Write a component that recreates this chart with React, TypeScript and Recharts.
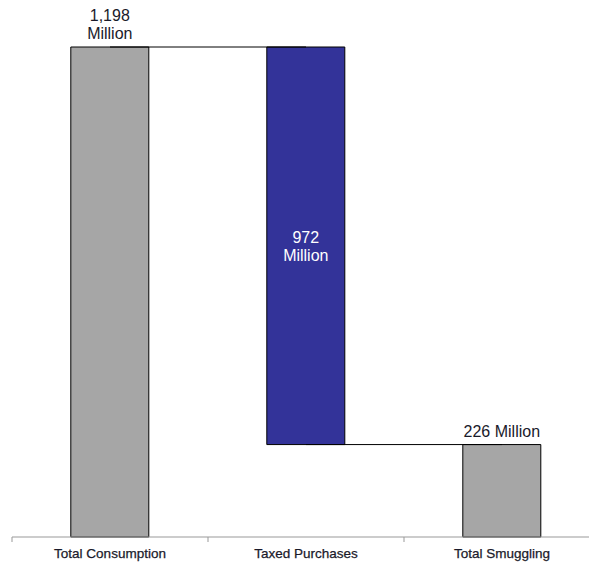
import { Bar, BarChart, Cell, LabelList, ReferenceLine, XAxis, YAxis } from "recharts";

const categories = ["Total Consumption", "Taxed Purchases", "Total Smuggling"];
const baseValues = [0, 226, 0];
const barValues = [1198, 972, 226];
const valueLabels = [["1,198", "Million"], ["972", "Million"], ["226 Million"]];
const barColors = ["#a6a6a6", "#333399", "#a6a6a6"];

const data = categories.map((name, i) => ({
  name,
  base: baseValues[i],
  value: barValues[i],
}));

const FONT = '"Liberation Sans", Arial, sans-serif';

function CategoryTick(props: any) {
  const { x, y, payload } = props;
  const half = payload?.offset ?? 98;
  return (
    <g>
      <line x1={x - half} y1={y} x2={x - half} y2={y + 5} stroke="#999" />
      <text
        x={x}
        y={y + 21}
        textAnchor="middle"
        fontFamily={FONT}
        fontSize={13.5}
        fill="#1a1a2a"
        stroke="#1a1a2a"
        strokeWidth={0.25}
      >
        {payload.value}
      </text>
    </g>
  );
}

function ValueLabel(props: any) {
  const { x, y, width, height, index } = props;
  const lines = valueLabels[index];
  const cx = x + width / 2;
  if (index === 1) {
    const mid = y + height / 2;
    return (
      <text textAnchor="middle" fontFamily={FONT} fontSize={16} fill="#fff">
        <tspan x={cx} y={mid - 3}>{lines[0]}</tspan>
        <tspan x={cx} y={mid + 15}>{lines[1]}</tspan>
      </text>
    );
  }
  return (
    <text textAnchor="middle" fontFamily={FONT} fontSize={16} fill="#1a1a2a">
      {lines.map((t: string, i: number) => (
        <tspan key={i} x={cx} y={y - 8 - (lines.length - 1 - i) * 18}>
          {t}
        </tspan>
      ))}
    </text>
  );
}

export default function App() {
  return (
    <div
      style={{
        position: "absolute",
        left: 0,
        top: 0,
        width: 589,
        height: 565,
        overflow: "hidden",
        background: "#fff",
      }}
    >
      <BarChart
        width={600}
        height={565}
        data={data}
        margin={{ top: 47, right: 0, left: 12, bottom: 0 }}
        barCategoryGap="30%"
      >
        <XAxis
          dataKey="name"
          height={28}
          axisLine={{ stroke: "#999" }}
          tickLine={false}
          tickSize={0}
          tickMargin={0}
          tick={<CategoryTick />}
          interval={0}
        />
        <YAxis hide domain={[0, 1198]} />
        <Bar dataKey="base" stackId="w" fill="transparent" isAnimationActive={false} />
        <Bar dataKey="value" stackId="w" stroke="#000" strokeWidth={1} isAnimationActive={false}>
          {data.map((d, i) => (
            <Cell key={d.name} fill={barColors[i]} />
          ))}
          <LabelList dataKey="value" content={<ValueLabel />} />
        </Bar>
        <ReferenceLine
          segment={[
            { x: categories[0], y: barValues[0] },
            { x: categories[1], y: barValues[0] },
          ]}
          stroke="#000"
          ifOverflow="visible"
        />
        <ReferenceLine
          segment={[
            { x: categories[1], y: baseValues[1] },
            { x: categories[2], y: baseValues[1] },
          ]}
          stroke="#000"
          ifOverflow="visible"
        />
      </BarChart>
    </div>
  );
}
